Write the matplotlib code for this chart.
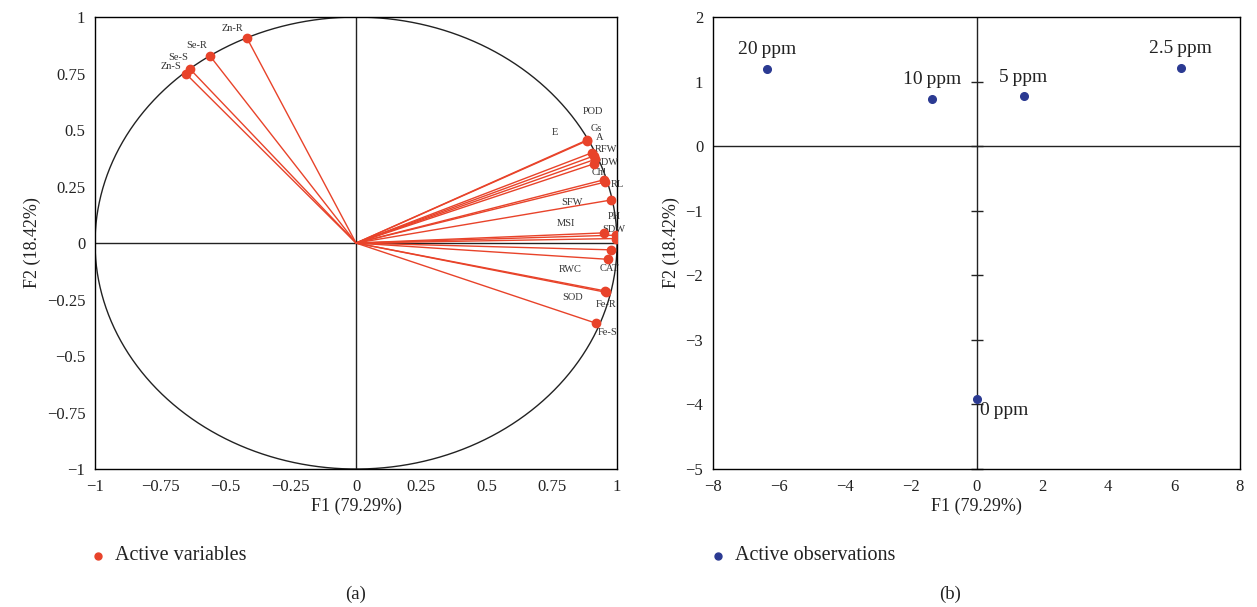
"""PCA biplot: correlation circle (a) and observations (b)."""

import matplotlib.pyplot as plt
import numpy as np
from matplotlib.lines import Line2D

# variables (loadings on F1 / F2)
var_names = [
    "POD", "E", "Gs", "A", "RFW", "RDW", "Chl", "RL", "SFW", "PH", "SDW",
    "MSI", "CAT", "RWC", "SOD", "Fe-R", "Fe-S", "Zn-R", "Se-R", "Se-S", "Zn-S",
]
var_f1 = [
    0.885, 0.884, 0.905, 0.910, 0.915, 0.910, 0.950, 0.955, 0.975, 0.950, 0.995,
    0.995, 0.975, 0.965, 0.955, 0.958, 0.920, -0.418, -0.559, -0.636, -0.651,
]
var_f2 = [
    0.456, 0.452, 0.400, 0.385, 0.370, 0.350, 0.280, 0.270, 0.190, 0.045, 0.035,
    0.020, -0.030, -0.072, -0.212, -0.218, -0.355, 0.907, 0.827, 0.770, 0.748,
]
# where XLSTAT put the labels (data units)
var_label_x = [
    0.908, 0.762, 0.920, 0.935, 0.958, 0.962, 0.931, 1.000, 0.828, 0.989, 0.989,
    0.805, 0.969, 0.820, 0.828, 0.958, 0.962, -0.475, -0.609, -0.682, -0.709,
]
var_label_y = [
    0.584, 0.491, 0.509, 0.465, 0.412, 0.358, 0.310, 0.261, 0.181, 0.119, 0.062,
    0.088, -0.111, -0.119, -0.239, -0.274, -0.398, 0.951, 0.876, 0.823, 0.779,
]

# observations (scores on F1 / F2)
obs_names = ["20\u2009ppm", "10\u2009ppm", "5\u2009ppm", "2.5\u2009ppm", "0\u2009ppm"]
obs_f1 = [-6.35, -1.34, 1.43, 6.20, 0.0]
obs_f2 = [1.19, 0.73, 0.77, 1.21, -3.92]

RED = "#e8432a"
BLUE = "#2b3a92"
INK = "#222222"
plt.rcParams["font.family"] = ["Liberation Serif", "DejaVu Serif"]
plt.rcParams["axes.linewidth"] = 1.0


def minus(values):
    return [f"{v:g}".replace("-", "\u2212") for v in values]


fig = plt.figure(figsize=(12.57, 6.07), dpi=100)
ax_a = fig.add_axes([0.0756, 0.2273, 0.4153, 0.7446])
ax_b = fig.add_axes([0.5672, 0.2273, 0.4193, 0.7446])

# ---- (a) correlation circle
theta = np.linspace(0, 2 * np.pi, 400)
ax_a.plot(np.cos(theta), np.sin(theta), color=INK, lw=1.0)
ax_a.axhline(0, color=INK, lw=1.0)
ax_a.axvline(0, color=INK, lw=1.0)
for x, y in zip(var_f1, var_f2):
    ax_a.plot([0, x], [0, y], color=RED, lw=1.0)
ax_a.plot(var_f1, var_f2, "o", color=RED, ms=6, zorder=4)
for name, lx, ly in zip(var_names, var_label_x, var_label_y):
    ax_a.text(lx, ly, name, fontsize=7.5, ha="center", va="center", color="#333333")
ax_a.set_xlim(-1, 1)
ax_a.set_ylim(-1, 1)
ticks_a = [-1, -0.75, -0.5, -0.25, 0, 0.25, 0.5, 0.75, 1]
ax_a.set_xticks(ticks_a)
ax_a.set_yticks(ticks_a)
ax_a.set_xticklabels(minus(ticks_a))
ax_a.set_yticklabels(minus(ticks_a))
ax_a.tick_params(length=0, labelsize=12, pad=7, colors=INK)
ax_a.set_xlabel("F1 (79.29%)", fontsize=13, labelpad=2, color=INK)
ax_a.set_ylabel("F2 (18.42%)", fontsize=13, labelpad=4, color=INK)

# ---- (b) observations
ax_b.axhline(0, color=INK, lw=1.0)
ax_b.axvline(0, color=INK, lw=1.0)
yticks_b = np.arange(-5, 3)
ax_b.plot(np.zeros(len(yticks_b) - 1), yticks_b[:-1], ls="none", marker="_",
          ms=8, mew=1.0, color=INK, clip_on=False)
ax_b.plot(obs_f1, obs_f2, "o", color=BLUE, ms=5.5, zorder=4)
for name, x, y in zip(obs_names[:-1], obs_f1[:-1], obs_f2[:-1]):
    ax_b.text(x, y + 0.3, name, fontsize=14, ha="center", va="center", color=INK)
ax_b.text(obs_f1[-1] + 0.1, obs_f2[-1] - 0.18, obs_names[-1], fontsize=14,
          ha="left", va="center", color=INK)
ax_b.set_xlim(-8, 8)
ax_b.set_ylim(-5, 2)
xticks_b = np.arange(-8, 9, 2)
ax_b.set_xticks(xticks_b)
ax_b.set_yticks(yticks_b)
ax_b.set_xticklabels(minus(xticks_b))
ax_b.set_yticklabels(minus(yticks_b))
ax_b.tick_params(length=0, labelsize=12, pad=7, colors=INK)
ax_b.set_xlabel("F1 (79.29%)", fontsize=13, labelpad=2, color=INK)
ax_b.set_ylabel("F2 (18.42%)", fontsize=13, labelpad=4, color=INK)

# ---- legends and panel letters
legend_y = 1 - 556 / 607
for mx, tx, color, text in [
    (98 / 1257, 115 / 1257, RED, "Active variables"),
    (718 / 1257, 735 / 1257, BLUE, "Active observations"),
]:
    fig.add_artist(Line2D([mx], [legend_y], ls="none", marker="o", color=color,
                          ms=5, transform=fig.transFigure))
    fig.text(tx, legend_y, text, fontsize=14.5, ha="left", va="center", color=INK)
fig.text(356 / 1257, 1 - 594 / 607, "(a)", fontsize=13.5, ha="center", va="center",
         color=INK)
fig.text(950 / 1257, 1 - 594 / 607, "(b)", fontsize=13.5, ha="center", va="center",
         color=INK)

fig.savefig("out.png", dpi=100)
